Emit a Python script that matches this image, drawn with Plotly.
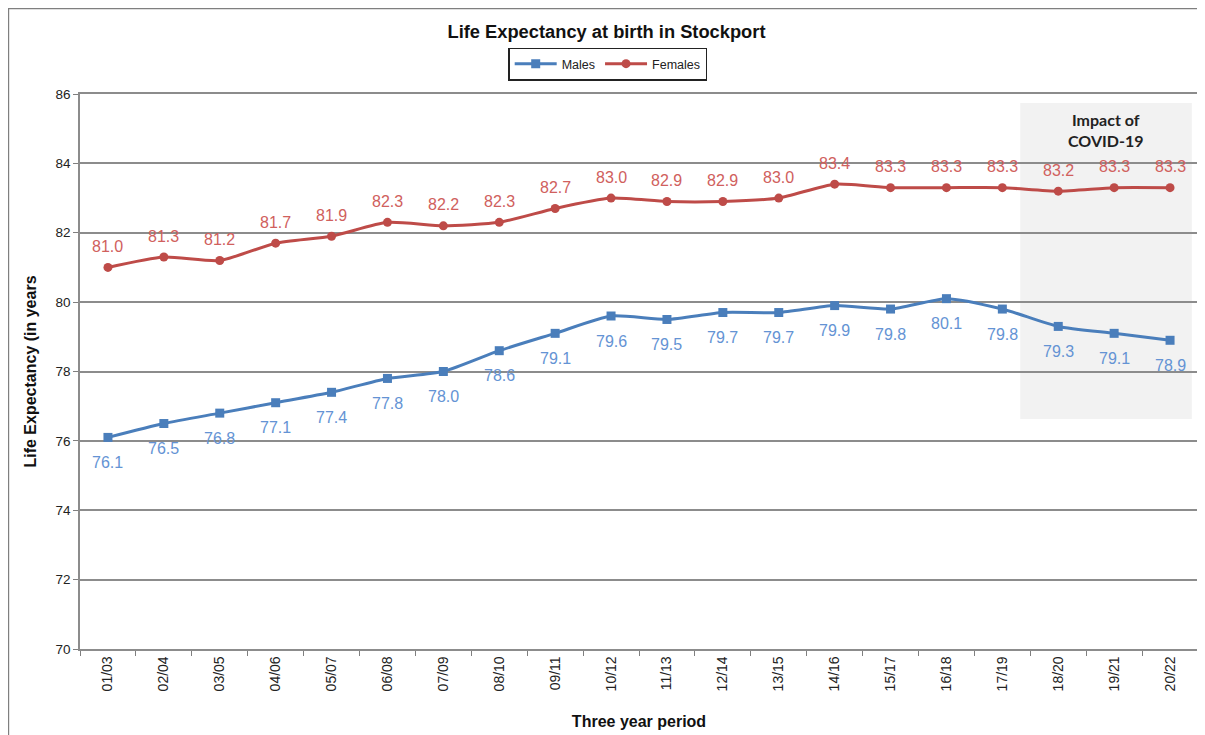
import plotly.graph_objects as go

periods = ["01/03", "02/04", "03/05", "04/06", "05/07", "06/08", "07/09", "08/10",
           "09/11", "10/12", "11/13", "12/14", "13/15", "14/16", "15/17", "16/18",
           "17/19", "18/20", "19/21", "20/22"]
males = [76.1, 76.5, 76.8, 77.1, 77.4, 77.8, 78.0, 78.6, 79.1, 79.6,
         79.5, 79.7, 79.7, 79.9, 79.8, 80.1, 79.8, 79.3, 79.1, 78.9]
females = [81.0, 81.3, 81.2, 81.7, 81.9, 82.3, 82.2, 82.3, 82.7, 83.0,
           82.9, 82.9, 83.0, 83.4, 83.3, 83.3, 83.3, 83.2, 83.3, 83.3]

BLUE = "#4a7ebb"
RED = "#be4b48"
FONT = "Liberation Sans, Arial, sans-serif"

fig = go.Figure()
fig.add_trace(go.Scatter(
    x=periods, y=males, name="Males",
    mode="lines+markers",
    line=dict(color=BLUE, width=3, shape="spline", smoothing=0.6),
    marker=dict(symbol="square", size=9, color=BLUE),
))
fig.add_trace(go.Scatter(
    x=periods, y=females, name="Females",
    mode="lines+markers",
    line=dict(color=RED, width=3, shape="spline", smoothing=0.6),
    marker=dict(symbol="circle", size=9, color=RED),
))

# data labels (Excel-style offsets)
for p, v in zip(periods, males):
    fig.add_annotation(x=p, y=v, text=f"{v:.1f}", showarrow=False, yshift=-25,
                       font=dict(size=16, color="#6493d4", family=FONT))
for p, v in zip(periods, females):
    fig.add_annotation(x=p, y=v, text=f"{v:.1f}", showarrow=False, yshift=21,
                       font=dict(size=16, color="#d0605d", family=FONT))

# shaded COVID period
fig.add_shape(type="rect", xref="x", yref="y", x0=16.32, x1=19.39, y0=76.63, y1=85.74,
              fillcolor="#f2f2f2", line=dict(width=0), layer="below")
fig.add_annotation(x=17.84, y=84.95, xref="x", yref="y", showarrow=False,
                   text="<b>Impact of<br>COVID-19</b>",
                   font=dict(size=16, color="#222222", family="Lato, sans-serif"))

# outer chart border
fig.add_shape(type="rect", xref="paper", yref="paper", x0=-0.064, x1=1.0045,
              y0=-0.17, y1=1.154, line=dict(color="#7f7f7f", width=1.5))

fig.update_xaxes(
    type="category", range=[-0.5, 19.5], tickangle=-90,
    tickson="boundaries", ticks="outside", ticklen=5, tickcolor="#7f7f7f",
    showline=True, linecolor="#8c8c8c", linewidth=1.5, mirror=True,
    showgrid=False, automargin=False,
    tickfont=dict(size=14, color="#222222", family=FONT),
    title=dict(text="<b>Three year period</b>", standoff=25,
               font=dict(size=16, color="#111111", family=FONT)),
)
fig.update_yaxes(
    range=[70, 86], dtick=2, ticks="outside", ticklen=5, tickcolor="#7f7f7f",
    showline=True, linecolor="#8c8c8c", linewidth=1.5, mirror=True,
    showgrid=True, gridcolor="#8c8c8c", gridwidth=1.5, zeroline=False,
    automargin=False,
    tickfont=dict(size=13.5, color="#222222", family=FONT),
    title=dict(text="<b>Life Expectancy (in years</b>", standoff=15,
               font=dict(size=16, color="#111111", family=FONT)),
)

fig.update_layout(
    width=1197, height=728,
    margin=dict(l=72, r=7, t=86, b=87),
    paper_bgcolor="white", plot_bgcolor="white",
    title=dict(text="<b>Life Expectancy at birth in Stockport</b>", x=0.5, xanchor="center",
               y=0.968, yanchor="middle",
               font=dict(size=18.3, color="#111111", family=FONT)),
    legend=dict(orientation="h", x=0.472, xanchor="center", y=1.054, yanchor="middle",
                bordercolor="#222222", borderwidth=1.5, bgcolor="white",
                font=dict(size=12.5, color="#222222", family=FONT),
                itemwidth=42, tracegroupgap=0),
    showlegend=True,
)

fig.write_html("out.html")
